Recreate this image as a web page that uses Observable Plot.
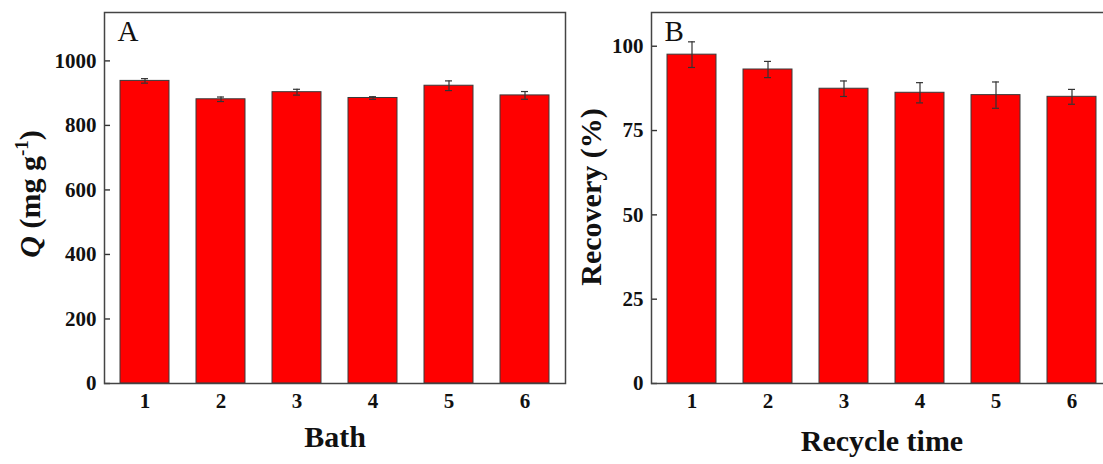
<!DOCTYPE html>
<html>
<head>
<meta charset="utf-8">
<script src="https://cdn.jsdelivr.net/npm/d3@7"></script>
<script src="https://cdn.jsdelivr.net/npm/@observablehq/plot@0.6"></script>
<style>
  html, body { margin: 0; padding: 0; background: #fff; overflow: hidden; }
  #fig { position: relative; width: 1114px; height: 464px; }
  #fig svg { position: absolute; top: 0; }
</style>
</head>
<body>
<div id="fig"></div>
<script>
// ---- data ----
const bathLabels = ["1", "2", "3", "4", "5", "6"];
const qValues = [938, 881, 903, 885, 923, 893];
const qErrors = [7, 7, 9, 4, 15, 12];
const qTicks = [0, 200, 400, 600, 800, 1000];

const recycleLabels = ["1", "2", "3", "4", "5", "6"];
const recoveryValues = [97.5, 93.1, 87.4, 86.2, 85.5, 85.0];
const recoveryErrors = [3.8, 2.4, 2.3, 3.0, 3.9, 2.2];
const recoveryTicks = [0, 25, 50, 75, 100];

const FONT = "'Liberation Serif', 'Times New Roman', serif";

function panel({cats, vals, errs, yDomain, yTicks, xTitle, xTitleDy, letter, marginLeft, width}) {
  const data = cats.map((c, i) => ({c, v: vals[i], e: errs[i]}));
  const plotWidth = width - marginLeft - 2;
  return Plot.plot({
    width, height: 464,
    marginTop: 12, marginBottom: 81, marginLeft, marginRight: 2,
    style: {fontFamily: FONT, background: "transparent", maxWidth: "none", overflow: "visible", color: "#111"},
    x: {type: "band", domain: cats, paddingInner: 0.35, paddingOuter: 0.175},
    y: {domain: yDomain},
    marks: [
      Plot.barY(data, {x: "c", y: "v", fill: "#ff0000", stroke: "#3a3a3a", strokeWidth: 1}),
      Plot.ruleX(data, {x: "c", y1: d => d.v - d.e, y2: d => d.v + d.e, stroke: "#333", strokeWidth: 1.2}),
      Plot.tickY(data, {x: "c", y: d => d.v + d.e, insetLeft: 21, insetRight: 21, stroke: "#333", strokeWidth: 1.2}),
      Plot.tickY(data, {x: "c", y: d => d.v - d.e, insetLeft: 21, insetRight: 21, stroke: "#333", strokeWidth: 1.2}),
      // inward tick marks on the left axis
      Plot.ruleY(yTicks, {y: d => d, insetRight: plotWidth - 6, stroke: "#333", strokeWidth: 1.4}),
      Plot.axisY({ticks: yTicks, tickFormat: d3.format("d"), tickSize: 0, tickPadding: 8, fontSize: 21, fontWeight: "bold", label: null}),
      Plot.axisX({tickSize: 0, tickPadding: 10, fontSize: 21, fontWeight: "bold", label: null}),
      Plot.frame({stroke: "#444", strokeWidth: 1.5}),
      Plot.text([letter], {frameAnchor: "top-left", text: d => d, dx: 13, dy: 8, fontSize: 29, textAnchor: "start", lineAnchor: "top"}),
      Plot.text([xTitle], {frameAnchor: "bottom", text: d => d, dy: xTitleDy, fontSize: 30, fontWeight: "bold", lineAnchor: "middle"})
    ]
  });
}

const fig = document.getElementById("fig");

const svgA = panel({
  cats: bathLabels, vals: qValues, errs: qErrors,
  yDomain: [0, 1150], yTicks: qTicks, xTitle: "Bath", xTitleDy: 54,
  letter: "A", marginLeft: 104, width: 567
});
svgA.style.left = "0px";
fig.appendChild(svgA);

const svgB = panel({
  cats: recycleLabels, vals: recoveryValues, errs: recoveryErrors,
  yDomain: [0, 110], yTicks: recoveryTicks, xTitle: "Recycle time", xTitleDy: 58,
  letter: "B", marginLeft: 86, width: 549
});
svgB.style.left = "565px";
fig.appendChild(svgB);

// rich y-axis titles (italic Q, superscript -1)
function yTitle(svg, x, y, parts) {
  const t = d3.select(svg).append("text")
    .attr("transform", `translate(${x},${y}) rotate(-90)`)
    .attr("text-anchor", "middle")
    .attr("font-family", FONT)
    .attr("font-size", 30)
    .attr("font-weight", "bold")
    .attr("fill", "#111");
  for (const p of parts) {
    const s = t.append("tspan").text(p.text);
    if (p.italic) s.attr("font-style", "italic");
    if (p.sup) s.attr("font-size", 19).attr("dy", -12);
    if (p.after) s.attr("dy", 12);
  }
}
yTitle(svgA, 40, 194, [
  {text: "Q", italic: true},
  {text: " (mg g"},
  {text: "-1", sup: true},
  {text: ")", after: true}
]);
yTitle(svgB, 36, 197, [{text: "Recovery (%)"}]);
</script>
</body>
</html>
